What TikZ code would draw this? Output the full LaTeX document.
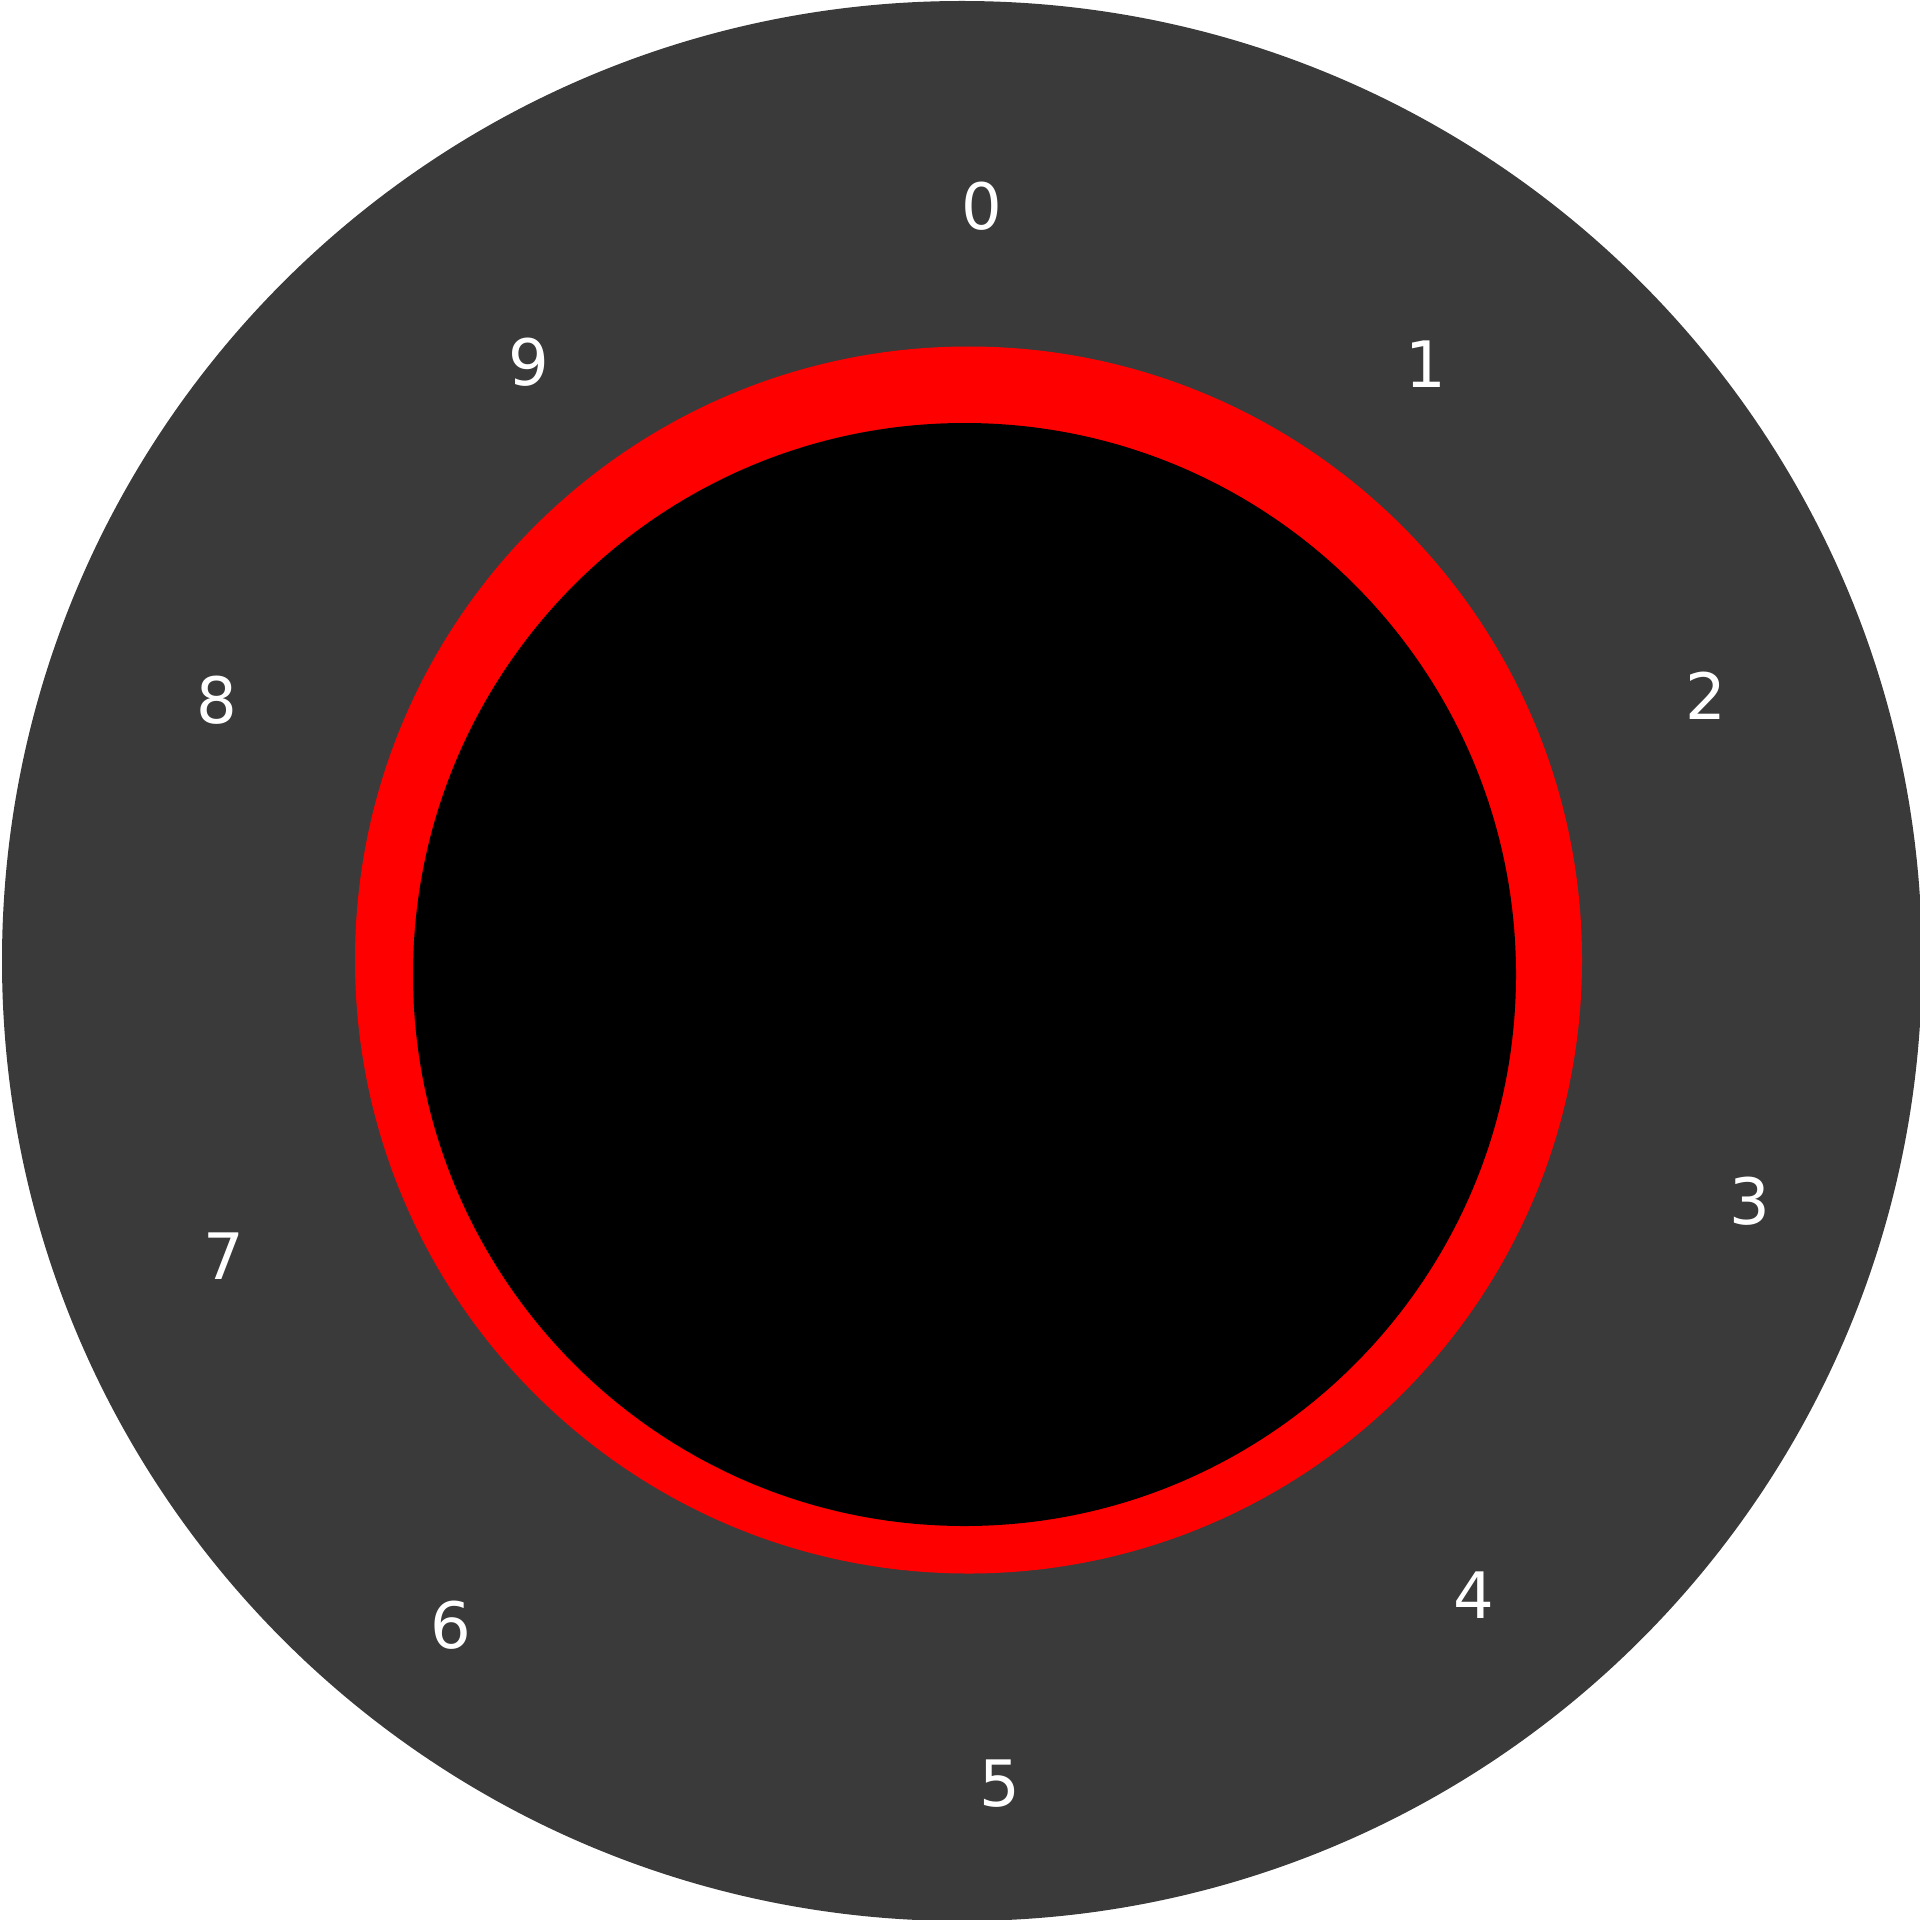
\documentclass[tikz,border=0pt]{standalone}
\usepackage{fontspec}
\setmainfont{DejaVu Sans}
\definecolor{dialgray}{HTML}{3A3A3A}
\begin{document}
\begin{tikzpicture}[x=0.5pt,y=-0.5pt,
  digit/.style={text=white,font=\fontsize{32}{38}\selectfont,inner sep=0pt,anchor=center}]
\useasboundingbox (0,0) rectangle (1920,1920);
\clip (0,0) rectangle (1920,1920);
\fill[dialgray] (962,961) circle [radius=480pt];
\fill[red] (968.5,960) circle [radius=306.75pt];
\fill[black] (964.5,974.5) circle [radius=275.75pt];
\node[digit] (d0) at (982,206.5) {0};
\node[digit] (d1) at (1426,364.5) {1};
\node[digit] (d2) at (1706,695.5) {2};
\node[digit] (d3) at (1749.5,1201.5) {3};
\node[digit] (d4) at (1474,1595.5) {4};
\node[digit] (d5) at (999.5,1784) {5};
\node[digit] (d6) at (450.6,1625) {6};
\node[digit] (d7) at (224,1256.5) {7};
\node[digit] (d8) at (216.7,700) {8};
\node[digit] (d9) at (529,362.5) {9};
\end{tikzpicture}
\end{document}
